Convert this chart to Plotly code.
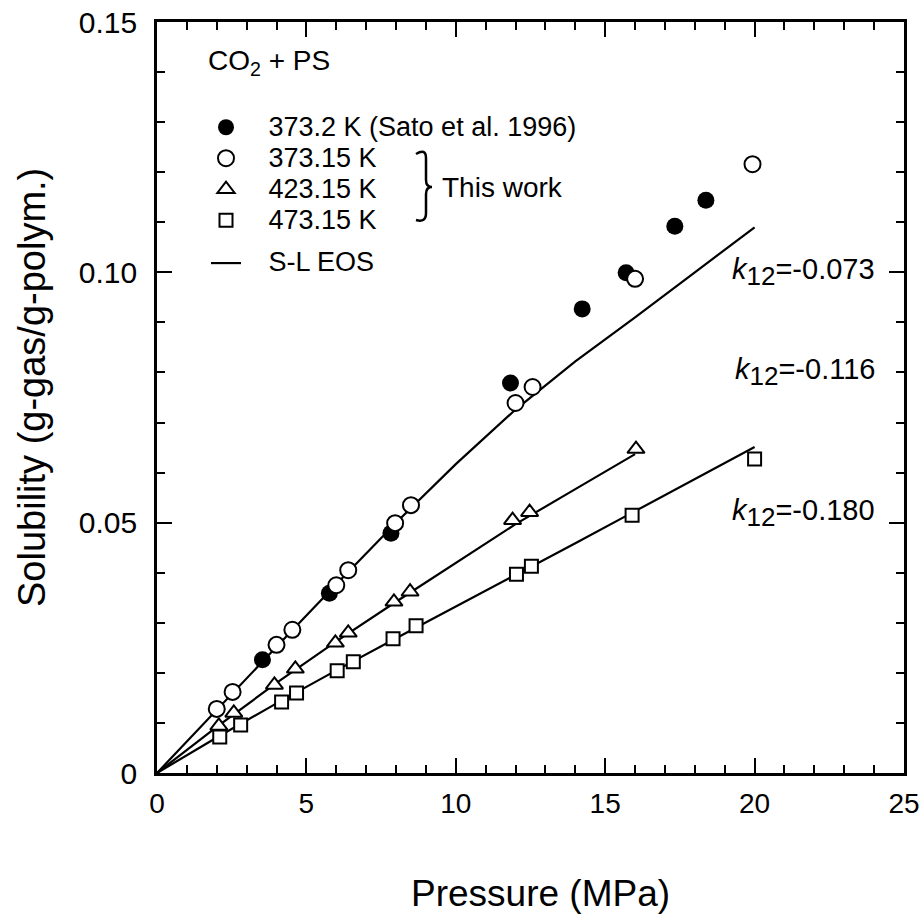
import plotly.graph_objects as go

# measured points (MPa, g-gas/g-polym.)
sato_p = [3.53, 5.77, 7.83, 11.83, 14.23, 15.70, 17.33, 18.37]
sato_s = [0.0226, 0.0359, 0.0479, 0.0779, 0.0927, 0.0999, 0.1092, 0.1144]

p373 = [2.00, 2.53, 4.00, 4.53, 6.00, 6.40, 7.97, 8.50, 12.00, 12.57, 16.00, 19.93]
s373 = [0.0128, 0.0162, 0.0256, 0.0286, 0.0375, 0.0405, 0.0499, 0.0535, 0.0739, 0.0771, 0.0987, 0.1216]

p423 = [2.07, 2.57, 3.93, 4.63, 5.97, 6.40, 7.93, 8.47, 11.90, 12.47, 16.03]
s423 = [0.0094, 0.0120, 0.0176, 0.0208, 0.0260, 0.0280, 0.0342, 0.0362, 0.0505, 0.0521, 0.0647]

p473 = [2.10, 2.80, 4.17, 4.67, 6.03, 6.57, 7.90, 8.67, 12.03, 12.53, 15.90, 20.00]
s473 = [0.0072, 0.0096, 0.0142, 0.0160, 0.0204, 0.0222, 0.0268, 0.0294, 0.0397, 0.0413, 0.0515, 0.0627]

# S-L EOS curves
eos373_p = [0, 2, 4, 6, 8, 10, 12, 14, 16, 18, 20]
eos373_s = [0, 0.0127, 0.0252, 0.0377, 0.0500, 0.0617, 0.0726, 0.0822, 0.0910, 0.1000, 0.1090]
eos423_p = [0, 2, 4, 6, 8, 10, 12, 14, 16]
eos423_s = [0, 0.0092, 0.0180, 0.0263, 0.0342, 0.0420, 0.0497, 0.0567, 0.0637]
eos473_p = [0, 2, 4, 6, 8, 10, 12, 14, 16, 18, 20]
eos473_s = [0, 0.0071, 0.0139, 0.0205, 0.0269, 0.0332, 0.0395, 0.0459, 0.0523, 0.0587, 0.0651]

k12_labels = ["-0.073", "-0.116", "-0.180"]
k12_y = [0.100, 0.080, 0.052]

x_ticks = [0, 5, 10, 15, 20, 25]
y_ticks = [0, 0.05, 0.10, 0.15]
y_ticktext = ["0", "0.05", "0.10", "0.15"]

FONT = "Liberation Sans, Arial, sans-serif"
L, R, T, B = 157, 16, 22, 144
PW, PH = 920 - L - R, 917 - T - B


def leg(txt):
    # bigger text than the legend font so rows stay tight like the original
    return '<span style="font-size:27px">   ' + txt + '</span>'


def px2paper(x, y):
    # pixel position in the picture -> paper coords of the plot area
    return (x - L) / PW, (917 - B - y) / PH


fig = go.Figure()

# lines first so the markers sit on top
for i, (px_, sx_) in enumerate([(eos373_p, eos373_s), (eos423_p, eos423_s), (eos473_p, eos473_s)]):
    fig.add_trace(go.Scatter(x=px_, y=sx_, mode="lines", line=dict(color="black", width=2.2),
                             name=leg("S-L EOS"), showlegend=(i == 0), legendgroup="eos",
                             legendrank=10))

fig.add_trace(go.Scatter(x=sato_p, y=sato_s, mode="markers", name=leg("373.2 K (Sato et al. 1996)"),
                         marker=dict(symbol="circle", size=17, color="black"),
                         legendgroup="pts", legendrank=1))
fig.add_trace(go.Scatter(x=p373, y=s373, mode="markers", name=leg("373.15 K"),
                         marker=dict(symbol="circle", size=16, color="white", line=dict(color="black", width=2)),
                         legendgroup="pts", legendrank=2))
fig.add_trace(go.Scatter(x=p423, y=s423, mode="markers", name=leg("423.15 K"),
                         marker=dict(symbol="triangle-up", size=15, color="white", line=dict(color="black", width=2)),
                         legendgroup="pts", legendrank=3))
fig.add_trace(go.Scatter(x=p473, y=s473, mode="markers", name=leg("473.15 K"),
                         marker=dict(symbol="square", size=13, color="white", line=dict(color="black", width=2)),
                         legendgroup="pts", legendrank=4))

for lab, yv in zip(k12_labels, k12_y):
    fig.add_annotation(x=24.1, y=yv, xref="x", yref="y", xanchor="right", yanchor="middle",
                       text='<i>k</i><sub><span style="font-size:26px">12</span></sub>=' + lab,
                       showarrow=False, font=dict(size=29, color="black", family=FONT))

# brace + "This work"
bx, by = px2paper(432, 187)
fig.add_shape(type="path", xref="paper", yref="paper", xsizemode="pixel", ysizemode="pixel",
              xanchor=bx, yanchor=by,
              path="M -16,33 Q -6,39 -6,29 L -6,7 Q -6,0 0,0 Q -6,0 -6,-7 L -6,-26 Q -6,-36 -16,-33",
              line=dict(color="black", width=2.5))
tx, ty = px2paper(440, 187)
fig.add_annotation(x=tx, y=ty, xref="paper", yref="paper",
                   xanchor="left", yanchor="middle", text="This work", showarrow=False,
                   font=dict(size=28, color="black", family=FONT))

# axis titles
ax_, ay_ = px2paper(540, 893)
fig.add_annotation(x=ax_, y=ay_, xref="paper", yref="paper",
                   xanchor="center", yanchor="middle", text="Pressure (MPa)", showarrow=False,
                   font=dict(size=37, color="black", family=FONT))
ax_, ay_ = px2paper(32, 388)
fig.add_annotation(x=ax_, y=ay_, xref="paper", yref="paper",
                   xanchor="center", yanchor="middle", text="Solubility (g-gas/g-polym.)",
                   textangle=-90, showarrow=False,
                   font=dict(size=38, color="black", family=FONT))

axis_common = dict(showline=True, linecolor="black", linewidth=2.8, mirror="ticks",
                   ticks="inside", ticklen=15, tickwidth=2, tickcolor="black",
                   showgrid=False, zeroline=False, automargin=False,
                   ticklabeloverflow="allow")

fig.update_xaxes(range=[0, 25], tickvals=x_ticks,
                 minor=dict(dtick=1, ticks="inside", ticklen=8, tickwidth=2, tickcolor="black", showgrid=False),
                 tickfont=dict(size=28, color="black", family=FONT),
                 ticklabelstandoff=3, **axis_common)
fig.update_yaxes(range=[0, 0.15], tickvals=y_ticks, ticktext=y_ticktext,
                 minor=dict(dtick=0.01, tick0=0, ticks="inside", ticklen=8, tickwidth=2, tickcolor="black", showgrid=False),
                 tickfont=dict(size=30, color="black", family=FONT),
                 ticklabelstandoff=11, **axis_common)

lx, ly = px2paper(206, 34)
fig.update_layout(
    width=920, height=917,
    margin=dict(l=L, r=R, t=T, b=B),
    plot_bgcolor="white", paper_bgcolor="white",
    font=dict(family=FONT, color="black"),
    showlegend=True,
    legend=dict(x=lx, y=ly, xanchor="left", yanchor="top",
                bgcolor="rgba(0,0,0,0)", font=dict(size=21.5, color="black", family=FONT),
                title=dict(text="CO<sub>2</sub> + PS<br>&nbsp;", font=dict(size=28, color="black", family=FONT)),
                traceorder="grouped", tracegroupgap=12, itemwidth=30),
)

fig.write_html("out.html", config={"displayModeBar": False},
               post_script="document.body.style.margin='0px';")
